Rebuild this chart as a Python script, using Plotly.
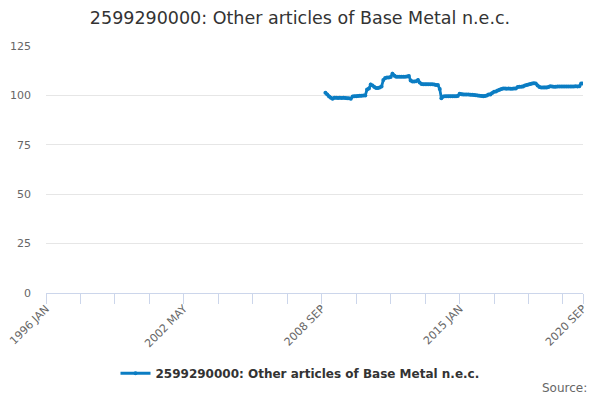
import plotly.graph_objects as go
import pandas as pd

# monthly index values, 2008 Nov .. 2020 Sep
start = "2008-11-01"
values = [
    101.4, 100.5,                                                              # 2008 Nov-Dec
    99.5, 98.8, 98.3, 98.8, 98.8, 98.7, 98.8, 98.7, 98.8, 98.7, 98.6, 98.5,   # 2009
    98.3, 99.5, 99.6, 99.6, 99.7, 99.8, 99.8, 99.9, 100.0, 103.0, 103.5, 105.5,  # 2010
    105.0, 104.2, 103.8, 103.7, 104.0, 104.5, 107.8, 108.8, 109.0, 109.0, 109.3, 111.0,  # 2011
    110.0, 109.5, 109.5, 109.4, 109.5, 109.5, 109.5, 109.6, 109.8, 107.5, 107.0, 107.0,  # 2012
    107.2, 107.8, 106.5, 105.8, 105.7, 105.6, 105.6, 105.7, 105.6, 105.6, 105.5, 105.3,  # 2013
    105.2, 103.3, 98.5, 99.5, 99.6, 99.6, 99.6, 99.6, 99.6, 99.6, 99.6, 99.7,  # 2014
    100.8, 100.6, 100.5, 100.5, 100.4, 100.4, 100.3, 100.3, 100.2, 100.1, 100.0, 99.8,  # 2015
    99.7, 99.6, 99.7, 100.0, 100.4, 100.5, 101.2, 101.8, 102.0, 102.5, 102.8, 103.2,  # 2016
    103.5, 103.5, 103.4, 103.5, 103.4, 103.4, 103.5, 103.5, 104.2, 104.4, 104.4, 104.5,  # 2017
    105.0, 105.3, 105.5, 105.8, 106.0, 106.2, 106.0, 105.0, 104.3, 104.0, 104.0, 104.0,  # 2018
    104.0, 104.3, 104.6, 104.5, 104.4, 104.4, 104.5, 104.5, 104.5, 104.5, 104.5, 104.5,  # 2019
    104.5, 104.5, 104.5, 104.5, 104.6, 104.5, 104.6, 106.0, 106.0,            # 2020
]
dates = pd.date_range(start, periods=len(values), freq="MS")

series_name = "2599290000: Other articles of Base Metal n.e.c."
# x ticks every 19 months, labels on every 4th one plus the last month
tick_dates = list(pd.date_range("1996-01-01", "2020-09-01", freq="19MS")) + [pd.Timestamp("2020-09-01")]
tick_text = [d.strftime("%Y %b").upper() if i % 4 == 0 else "" for i, d in enumerate(tick_dates)]
tick_text[-1] = "2020 SEP"
y_ticks = [0, 25, 50, 75, 100, 125]

BLUE = "#0b7dc3"
fig = go.Figure()
fig.add_trace(go.Scatter(x=dates, y=values, mode="lines+markers", name=series_name,
                         line=dict(color=BLUE, width=2.8), marker=dict(color=BLUE, size=4)))

fig.update_layout(
    width=600, height=400, plot_bgcolor="white", paper_bgcolor="white",
    font=dict(family="DejaVu Sans", color="#666666", size=11),
    margin=dict(l=46, r=17, t=46, b=107, autoexpand=False),
    title=dict(text=series_name, x=0.5, xanchor="center", y=0.955, yanchor="middle",
               font=dict(size=17.5, color="#333333")),
    showlegend=True,
    legend=dict(orientation="h", xref="container", x=0.5, xanchor="center",
                y=-0.325, yanchor="middle",
                font=dict(size=12, color="#333333", weight="bold")),
    hovermode=False,
)
fig.update_xaxes(range=["1996-01-01", "2020-09-01"], tickvals=tick_dates, ticktext=tick_text,
                 tickangle=-45, ticks="outside", ticklen=10, tickcolor="#ccd6eb",
                 showline=True, linecolor="#ccd6eb", showgrid=False, zeroline=False,
                 automargin=False, ticklabeloverflow="allow", ticklabelstandoff=-6,
                 tickfont=dict(size=11, color="#666666"))
fig.update_yaxes(range=[0, 125], tickvals=y_ticks, showgrid=True, gridcolor="#e6e6e6",
                 zeroline=False, showline=False, ticks="", ticklabelstandoff=14,
                 automargin=False, tickfont=dict(size=11, color="#666666"))
fig.add_annotation(text="Source:", xref="paper", yref="paper", x=1.011, y=-0.385,
                   xanchor="right", yanchor="middle", showarrow=False,
                   font=dict(size=12, color="#666666"))

# drop the default body margin so the 600x400 figure fills the window
fig.write_html("out.html", config={"displayModeBar": False},
               post_script="document.body.style.margin='0';")
